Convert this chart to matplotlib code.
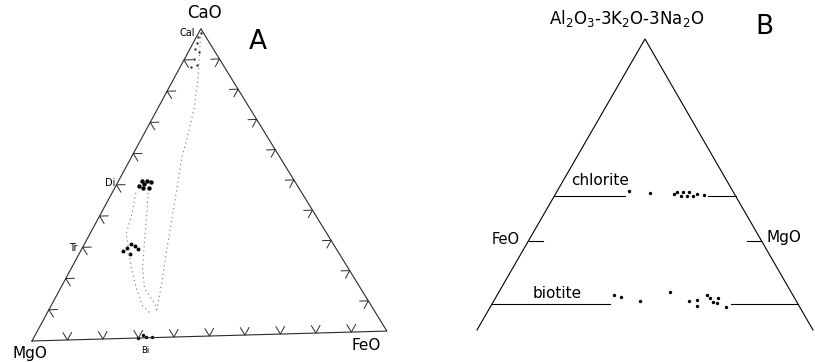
import numpy as np
import matplotlib
matplotlib.use("Agg")
import matplotlib.pyplot as plt
from matplotlib.transforms import Affine2D

R3 = np.sqrt(3) / 2

# ---- A : CaO - MgO - FeO (mole fractions of CaO and FeO, MgO is the rest)
cal_cao = [0.987, 0.974, 0.955, 0.935, 0.925, 0.902, 0.882, 0.876]
cal_feo = [0.006, 0.004, 0.010, 0.014, 0.031, 0.027, 0.045, 0.031]
di_cao = [0.495, 0.511, 0.510, 0.507, 0.487, 0.488, 0.500]
di_feo = [0.066, 0.067, 0.081, 0.094, 0.098, 0.081, 0.077]
tr_cao = [0.283, 0.293, 0.305, 0.298, 0.288, 0.273]
tr_feo = [0.123, 0.129, 0.135, 0.149, 0.163, 0.145]
bi_cao = [0.000, 0.003, 0.002, 0.009]
bi_feo = [0.299, 0.320, 0.337, 0.308]

# dotted field outlines
trail_cao = [0.987, 0.843, 0.745, 0.664, 0.582, 0.485, 0.370, 0.256, 0.175, 0.087]
trail_feo = [0.006, 0.067, 0.103, 0.125, 0.145, 0.178, 0.216, 0.254, 0.282, 0.310]
band_l_cao = [0.472, 0.407, 0.342, 0.227, 0.161, 0.104, 0.081]
band_l_feo = [0.068, 0.089, 0.103, 0.172, 0.218, 0.262, 0.293]
band_r_cao = [0.471, 0.405, 0.340, 0.226, 0.160, 0.110, 0.087]
band_r_feo = [0.103, 0.131, 0.157, 0.204, 0.241, 0.294, 0.310]

# ---- B : A - FeO - MgO  (A fraction, Mg/(Mg+Fe))
chl_a = [0.478, 0.471, 0.468, 0.474, 0.461, 0.474, 0.461, 0.474, 0.461, 0.468, 0.465]
chl_mg = [0.41, 0.53, 0.663, 0.68, 0.697, 0.713, 0.730, 0.747, 0.764, 0.790, 0.83]
bio_a = [0.119, 0.113, 0.099, 0.130, 0.099, 0.102, 0.082, 0.119, 0.109, 0.096, 0.109, 0.092, 0.078]
bio_mg = [0.394, 0.418, 0.482, 0.584, 0.644, 0.674, 0.670, 0.711, 0.716, 0.725, 0.743, 0.735, 0.762]
chl_level, chl_gap = 0.461, (0.39, 0.85)
bio_level, bio_gap = 0.09, (0.387, 0.78)
tick_level = 0.307


def tern_a(cao, feo):
    cao = np.asarray(cao, float)
    feo = np.asarray(feo, float)
    return feo + cao / 2, cao * R3


def tern_b(a, mg):
    a = np.asarray(a, float)
    mg = np.asarray(mg, float)
    return (1 - a) * mg + a / 2, a * R3


fig = plt.figure(figsize=(8.15, 3.62), dpi=100)
ax1 = fig.add_axes([0, 0, 0.5, 1])
ax2 = fig.add_axes([0.5, 0, 0.5, 1])

# ------------------------------------------------------------------ A
ax1.set_xlim(-0.0901, 1.0577)
ax1.set_ylim(-0.0592, 0.9606)
ax1.axis("off")
# the diagram sits slightly tilted on the page
rot = Affine2D().rotate_deg(1.6) + ax1.transData
edge = "#2a2a2a"

ax1.plot([0, 1, 0.5, 0], [0, 0, R3, 0], color=edge, lw=0.8, transform=rot)

# ternary ticks every 10 %, two short strokes parallel to the other sides
L = 0.024
for t in np.arange(1, 10) / 10:
    # base (MgO-FeO)
    x0, y0 = t, 0
    ax1.plot([x0 - 0.5 * L, x0, x0 + 0.5 * L], [y0 + R3 * L, y0, y0 + R3 * L],
             color=edge, lw=0.7, transform=rot)
    # left side (MgO-CaO)
    x0, y0 = 0.5 * t, R3 * t
    ax1.plot([x0 + L, x0, x0 + 0.5 * L], [y0, y0, y0 - R3 * L],
             color=edge, lw=0.7, transform=rot)
    # right side (FeO-CaO)
    x0, y0 = 1 - 0.5 * t, R3 * t
    ax1.plot([x0 - L, x0, x0 - 0.5 * L], [y0, y0, y0 - R3 * L],
             color=edge, lw=0.7, transform=rot)

for c, f in [(trail_cao, trail_feo), (band_l_cao, band_l_feo), (band_r_cao, band_r_feo)]:
    x, y = tern_a(c, f)
    ax1.plot(x, y, ls=(0, (1, 3)), color="#777777", lw=0.8, transform=rot)

x, y = tern_a(cal_cao, cal_feo)
ax1.scatter(x, y, s=3, color="#333333", lw=0, transform=rot)
x, y = tern_a(di_cao, di_feo)
ax1.scatter(x, y, s=10, color="black", lw=0, transform=rot)
x, y = tern_a(tr_cao, tr_feo)
ax1.scatter(x, y, s=8, color="black", lw=0, transform=rot)
x, y = tern_a(bi_cao, bi_feo)
ax1.scatter(x, y, s=6, color="black", lw=0, transform=rot)

ax1.text(0.487, 0.924, "CaO", ha="center", va="center", fontsize=12)
ax1.text(0.437, 0.868, "Cal", ha="center", va="center", fontsize=7)
ax1.text(0.220, 0.445, "Di", ha="center", va="center", fontsize=7)
ax1.text(0.115, 0.262, "Tr", ha="center", va="center", fontsize=7)
ax1.text(0.318, -0.028, "Bi", ha="center", va="center", fontsize=6)
ax1.text(-0.006, -0.034, "MgO", ha="center", va="center", fontsize=11)
ax1.text(0.941, -0.014, "FeO", ha="center", va="center", fontsize=11)
ax1.text(0.637, 0.842, "A", ha="center", va="center", fontsize=19)

# ------------------------------------------------------------------ B
ax2.set_xlim(-0.2068, 1.006)
ax2.set_ylim(-0.0952, 0.982)
ax2.axis("off")

ax2.plot([0, 0.5, 1], [0, R3, 0], color="black", lw=0.8)

for lev, (g0, g1) in [(chl_level, chl_gap), (bio_level, bio_gap)]:
    x, y = tern_b([lev, lev], [0, g0])
    ax2.plot(x, y, color="black", lw=0.8)
    x, y = tern_b([lev, lev], [g1, 1])
    ax2.plot(x, y, color="black", lw=0.8)

x, y = tern_b([tick_level, tick_level], [0, 0.06])
ax2.plot(x, y, color="black", lw=0.8)
x, y = tern_b([tick_level, tick_level], [0.94, 1])
ax2.plot(x, y, color="black", lw=0.8)

x, y = tern_b(chl_a, chl_mg)
ax2.scatter(x, y, s=6, color="black", lw=0)
x, y = tern_b(bio_a, bio_mg)
ax2.scatter(x, y, s=6, color="black", lw=0)

ax2.text(0.446, 0.926, r"Al$_2$O$_3$-3K$_2$O-3Na$_2$O", ha="center", va="center", fontsize=12)
ax2.text(0.857, 0.902, "B", ha="center", va="center", fontsize=19)
ax2.text(0.366, 0.446, "chlorite", ha="center", va="center", fontsize=11)
ax2.text(0.238, 0.110, "biotite", ha="center", va="center", fontsize=11)
ax2.text(0.128, 0.268, "FeO", ha="right", va="center", fontsize=10.5)
ax2.text(0.863, 0.274, "MgO", ha="left", va="center", fontsize=11)

fig.savefig("out.png", dpi=100)
